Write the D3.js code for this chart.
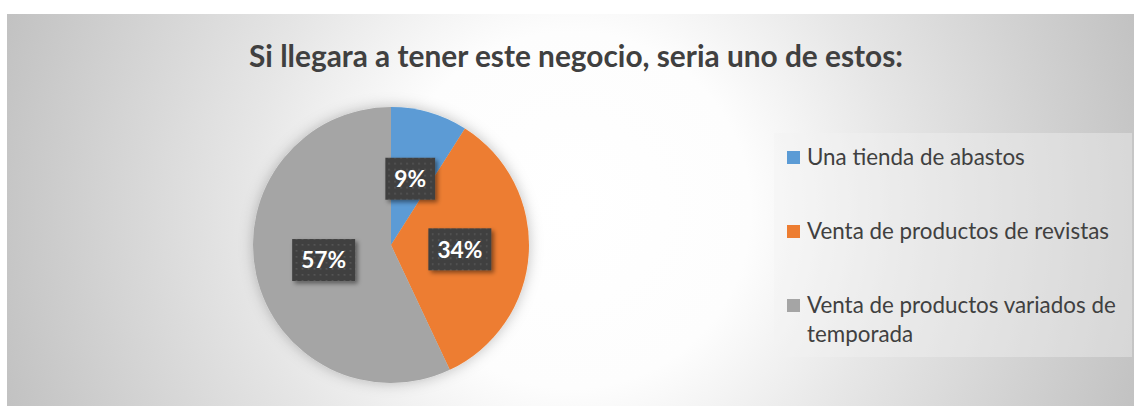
<!DOCTYPE html>
<html><head><meta charset="utf-8">
<script src="https://cdn.jsdelivr.net/npm/d3@7"></script>
<style>html,body{margin:0;padding:0;background:#fff;overflow:hidden;} svg{display:block;}</style>
</head><body>
<svg id="chart" width="1134" height="406"></svg>
<script>
// ---- data ----
const title = "Si llegara a tener este negocio, seria uno de estos:";
const categories = ["Una tienda de abastos", "Venta de productos de revistas", "Venta de productos variados de temporada"];
const legendLines = [["Una tienda de abastos"], ["Venta de productos de revistas"], ["Venta de productos variados de", "temporada"]];
const values = [9, 34, 57];
const labels = ["9%", "34%", "57%"];
const colors = ["#5B9BD5", "#ED7D31", "#A5A5A5"];

// ---- layout ----
const W = 1134, H = 406;
const area = {x: 7, y: 14, w: 1127, h: 392};
const cx = 391, cy = 245, R = 138;

const svg = d3.select("#chart");
const defs = svg.append("defs");

const rg = defs.append("radialGradient").attr("id", "bg")
  .attr("gradientUnits", "userSpaceOnUse")
  .attr("cx", 572).attr("cy", 210).attr("r", 595);
[[0, "#ffffff"], [0.3, "#fdfdfd"], [0.55, "#e6e6e6"], [0.8, "#d2d2d2"], [1, "#c2c2c2"]]
  .forEach(([o, c]) => rg.append("stop").attr("offset", o).attr("stop-color", c));

const pieShadow = defs.append("filter").attr("id", "pieShadow")
  .attr("x", "-20%").attr("y", "-20%").attr("width", "140%").attr("height", "140%");
pieShadow.append("feDropShadow").attr("dx", 0).attr("dy", 0).attr("stdDeviation", 7)
  .attr("flood-color", "#000").attr("flood-opacity", 0.25);

const lblShadow = defs.append("filter").attr("id", "lblShadow")
  .attr("x", "-30%").attr("y", "-30%").attr("width", "160%").attr("height", "160%");
lblShadow.append("feDropShadow").attr("dx", 2.5).attr("dy", 2.5).attr("stdDeviation", 2)
  .attr("flood-color", "#000").attr("flood-opacity", 0.45);

const pat = defs.append("pattern").attr("id", "dots")
  .attr("patternUnits", "userSpaceOnUse").attr("width", 6).attr("height", 6);
pat.append("rect").attr("width", 6).attr("height", 6).attr("fill", "#404040");
pat.append("rect").attr("x", 2).attr("y", 2).attr("width", 1.6).attr("height", 1.6).attr("fill", "#585858");

// background
svg.append("rect").attr("x", area.x).attr("y", area.y).attr("width", area.w).attr("height", area.h)
  .attr("fill", "url(#bg)");

const fitText = (sel, target) => {
  const node = sel.node();
  const fs = parseFloat(sel.attr("font-size"));
  const w = node.getComputedTextLength();
  sel.attr("font-size", (fs * target / w).toFixed(2));
  return fs * target / w;
};

// title
const t = svg.append("text").attr("x", 576).attr("y", 67)
  .attr("text-anchor", "middle").attr("font-family", "Lato, 'Open Sans', sans-serif")
  .attr("font-weight", "bold").attr("font-size", 25).attr("fill", "#404040").text(title);
fitText(t, 654);

// pie
const pie = d3.pie().sort(null).value(d => d);
const arc = d3.arc().innerRadius(0).outerRadius(R);
const color = d3.scaleOrdinal().domain(categories).range(colors);
const arcs = pie(values);
const g = svg.append("g").attr("transform", `translate(${cx},${cy})`);
g.append("g").attr("filter", "url(#pieShadow)")
  .selectAll("path").data(arcs).join("path")
  .attr("d", arc).attr("fill", (d, i) => color(categories[i]));

// label font size fitted so "34%" is ~45px wide
const labFamily = "Lato, 'Open Sans', sans-serif";
const lprobe = svg.append("text").attr("font-family", labFamily).attr("font-weight", "bold")
  .attr("font-size", 23).text(labels[1]);
const labFs = fitText(lprobe, 45);
lprobe.remove();

const lg = g.selectAll("g.lbl").data(arcs).join("g").attr("class", "lbl")
  .attr("transform", d => `translate(${arc.centroid(d)})`);
lg.each(function(d, i) {
  const el = d3.select(this);
  const rect = el.append("rect").attr("fill", "url(#dots)").attr("filter", "url(#lblShadow)");
  const tx = el.append("text").attr("text-anchor", "middle").attr("dy", "0.36em")
    .attr("font-family", labFamily).attr("font-weight", "bold")
    .attr("font-size", labFs.toFixed(2)).attr("fill", "#ffffff").text(labels[i]);
  const w = tx.node().getComputedTextLength();
  const bw = w + 18, bh = 42;
  rect.attr("x", -bw / 2).attr("y", -bh / 2).attr("width", bw).attr("height", bh);
});

// legend
svg.append("rect").attr("x", 774).attr("y", 133).attr("width", 358).attr("height", 224)
  .attr("fill", "#f2f2f2").attr("fill-opacity", 0.4);
const baselines = [[165], [239], [313, 342]];
const probe = svg.append("text").attr("font-family", "Lato, 'Open Sans', sans-serif")
  .attr("font-size", 20).text(legendLines[1][0]);
const lfs = fitText(probe, 302);
probe.remove();
const leg = svg.append("g");
legendLines.forEach((lines, i) => {
  leg.append("rect").attr("x", 787).attr("y", baselines[i][0] - 14).attr("width", 13).attr("height", 13)
    .attr("fill", color(categories[i]));
  lines.forEach((ln, j) => {
    leg.append("text").attr("x", 807).attr("y", baselines[i][j])
      .attr("font-family", "Lato, 'Open Sans', sans-serif").attr("font-size", lfs.toFixed(2))
      .attr("fill", "#404040").text(ln);
  });
});
</script>
</body></html>
